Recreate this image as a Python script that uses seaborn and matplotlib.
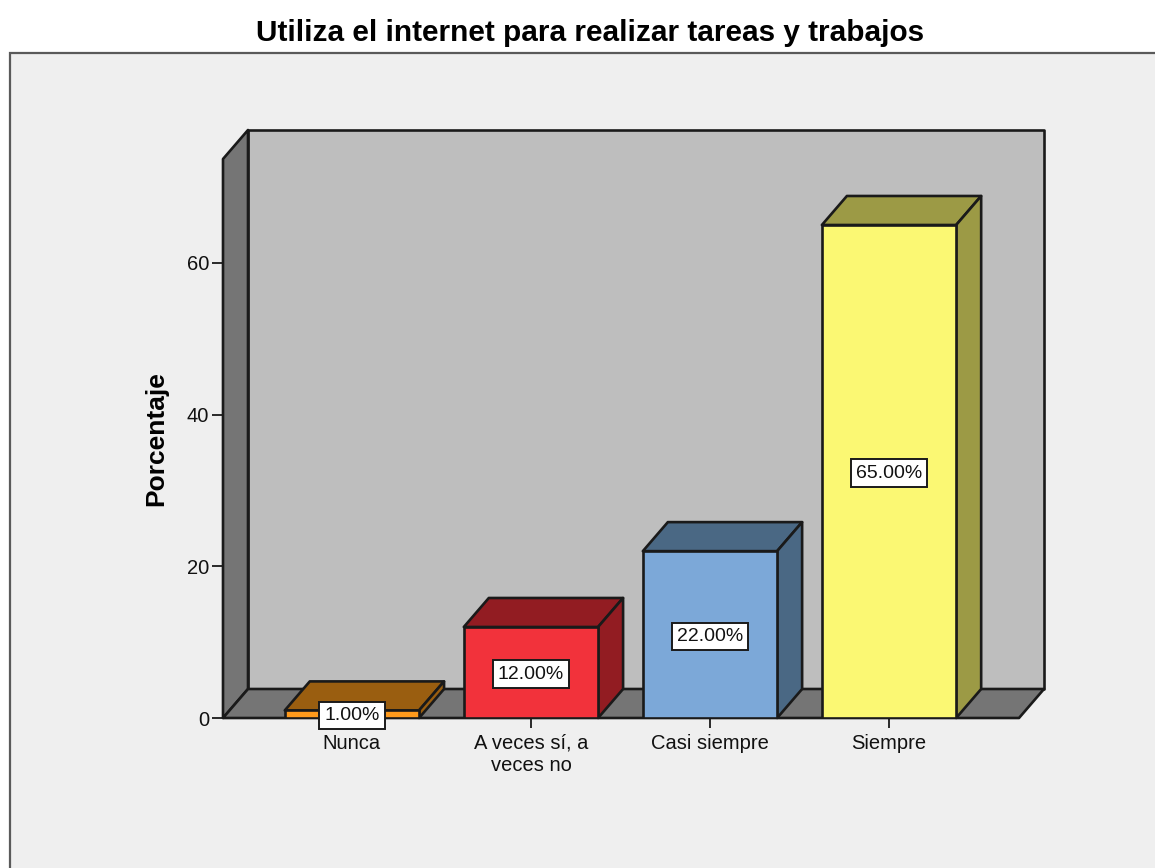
#!/usr/bin/env python3
"""Barras pseudo 3D: uso de internet para tareas y trabajos."""
import pandas as pd
import matplotlib
matplotlib.use('Agg')
import matplotlib.pyplot as plt
from matplotlib.patches import Polygon, Rectangle
import seaborn as sns

categorias = ['Nunca', 'A veces sí, a\nveces no', 'Casi siempre', 'Siempre']
porcentajes = [1, 12, 22, 65]
colores_frente = ['#FF9A1C', '#F2323B', '#7CA8D8', '#FBF873']
colores_sombra = ['#9A5E10', '#921C22', '#4A6884', '#9C9A45']
y_ticks = [0, 20, 40, 60]

W, H = 1155, 868
FONDO = '#EFEFEF'
PARED = '#BEBEBE'
LATERAL = '#757575'
LINEA = '#1A1A1A'

sns.set_theme(style='white')
plt.rcParams['font.family'] = ['Liberation Sans', 'DejaVu Sans']

fig = plt.figure(figsize=(W / 100, H / 100), dpi=100, facecolor='white')
fig.add_artist(Rectangle((10 / W, -0.05), 1.1, 1 - 53 / H + 0.05, transform=fig.transFigure,
                         facecolor=FONDO, edgecolor='#5A5A5A', linewidth=1.6, zorder=-1))

# the axes is the front plane of the box
ax = fig.add_axes([223 / W, 1 - 718 / H, (1019 - 223) / W, (718 - 159) / H])
ax.patch.set_visible(False)

df = pd.DataFrame({'categoria': categorias, 'porcentaje': porcentajes})
sns.barplot(data=df, x='categoria', y='porcentaje', hue='categoria', palette=colores_frente,
            saturation=1, width=0.75, edgecolor=LINEA, linewidth=1.9, legend=False, ax=ax, zorder=3)

ax.set_xlim(-0.72, 3.726)
ax.set_ylim(0, 73.7)

# depth of the box, 25 px right and 29 px up, in data units
dx = 25 / 179
dy = 29 / 7.583


def cara(puntos, color, z):
    ax.add_patch(Polygon(puntos, closed=True, facecolor=color, edgecolor=LINEA,
                         linewidth=1.9, zorder=z, clip_on=False, joinstyle='round'))


x0, x1 = ax.get_xlim()
y1 = ax.get_ylim()[1]
cara([(x0 + dx, dy), (x1 + dx, dy), (x1 + dx, y1 + dy), (x0 + dx, y1 + dy)], PARED, 0.5)
cara([(x0, 0), (x0 + dx, dy), (x0 + dx, y1 + dy), (x0, y1)], LATERAL, 0.6)
cara([(x0, 0), (x1, 0), (x1 + dx, dy), (x0 + dx, dy)], LATERAL, 0.6)

for barra, valor, sombra in zip(ax.patches[:len(porcentajes)], porcentajes, colores_sombra):
    izq = barra.get_x()
    der = izq + barra.get_width()
    cara([(izq, valor), (der, valor), (der + dx, valor + dy), (izq + dx, valor + dy)], sombra, 2)
    cara([(der, 0), (der + dx, dy), (der + dx, valor + dy), (der, valor)], sombra, 2)
    ax.text((izq + der) / 2, valor / 2 - 0.2, f'{valor:.2f}%', ha='center', va='center', fontsize=14,
            color='#111111', zorder=5, clip_on=False,
            bbox=dict(boxstyle='square,pad=0.26', facecolor='white', edgecolor=LINEA, linewidth=1.4))

sns.despine(ax=ax, left=True, bottom=True, top=True, right=True)
ax.set_yticks(y_ticks)
ax.tick_params(axis='y', left=True, length=8, width=1.3, color=LINEA, labelsize=14.5, labelcolor='#111111', pad=2)
ax.tick_params(axis='x', bottom=True, length=7.5, width=1.3, color=LINEA, labelsize=14.5, labelcolor='#111111', pad=4)
ax.set_xlabel('')
ax.set_ylabel('Porcentaje', fontsize=19, fontweight='bold', color='black')
ax.yaxis.set_label_coords((168 - 223) / (1019 - 223), (718 - 439) / (718 - 159))

fig.suptitle('Utiliza el internet para realizar tareas y trabajos', x=590 / W, y=1 - 33 / H,
             va='center', ha='center', fontsize=21.4, fontweight='bold', color='black')

fig.savefig('out.png', dpi=100, facecolor='white')
